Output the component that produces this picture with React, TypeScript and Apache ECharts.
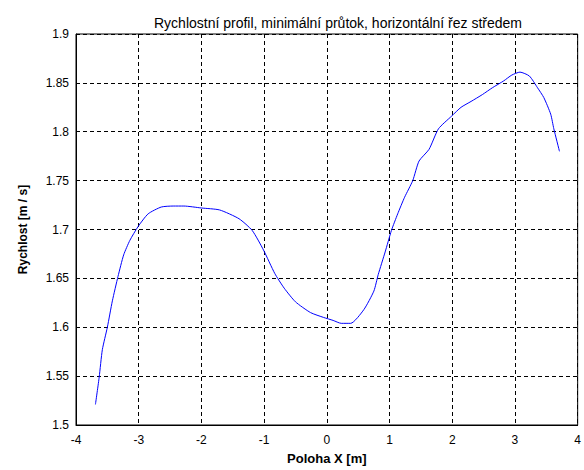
import React, { useEffect, useRef } from "react";
import * as echarts from "echarts";

// Velocity profile samples: position X [m] and speed [m/s]
const positionX = [
  -3.69, -3.63, -3.58, -3.5, -3.42, -3.33, -3.24, -3.14, -3.01, -2.85, -2.64,
  -2.45, -2.28, -2.0, -1.71, -1.4, -1.19, -1.01, -0.83, -0.68, -0.5, -0.26,
  -0.05, 0.1, 0.23, 0.38, 0.59, 0.75, 0.82, 0.93, 1.03, 1.13, 1.24, 1.37, 1.47,
  1.63, 1.78, 1.99, 2.14, 2.3, 2.48, 2.64, 2.82, 2.95, 3.08, 3.23, 3.36, 3.46,
  3.57, 3.62, 3.71,
];
const velocity = [
  1.521, 1.549, 1.577, 1.6, 1.627, 1.652, 1.674, 1.689, 1.703, 1.716, 1.723,
  1.724, 1.724, 1.722, 1.72, 1.711, 1.699, 1.679, 1.655, 1.64, 1.626, 1.615,
  1.61, 1.607, 1.604, 1.604, 1.618, 1.637, 1.654, 1.677, 1.699, 1.716, 1.733,
  1.75, 1.77, 1.782, 1.803, 1.816, 1.825, 1.831, 1.838, 1.845, 1.852, 1.858,
  1.861, 1.857, 1.845, 1.835, 1.818, 1.803, 1.78,
];

const titleText =
  "Rychlostní profil, minimální průtok, horizontální řez středem";
const xName = "Poloha X [m]";
const yName = "Rychlost [m / s]";

const FONT = "'Liberation Sans', Arial, sans-serif";

export default function App() {
  const ref = useRef<HTMLDivElement>(null);

  useEffect(() => {
    if (!ref.current) return;
    const chart = echarts.init(ref.current, undefined, { renderer: "svg" });
    const gridLine = { show: true, lineStyle: { color: "#000", type: [4, 3] as any, width: 1 } };
    chart.setOption({
      animation: false,
      backgroundColor: "#fff",
      title: {
        text: titleText,
        left: 333,
        top: 11,
        textAlign: "center",
        textStyle: { fontFamily: FONT, fontSize: 14, fontWeight: "normal", color: "#000" },
      },
      grid: {
        left: 76,
        top: 34,
        right: -7,
        bottom: 42,
        show: true,
        borderColor: "#000",
        borderWidth: 1,
      },
      xAxis: {
        type: "value",
        min: -4,
        max: 4,
        interval: 1,
        name: xName,
        nameLocation: "middle",
        nameGap: 27,
        nameTextStyle: { fontFamily: FONT, fontSize: 13, fontWeight: "bold", color: "#000" },
        axisLine: { show: true, onZero: false, lineStyle: { color: "#000", width: 1 } },
        axisTick: { show: false },
        axisLabel: { fontFamily: FONT, fontSize: 12, color: "#000", margin: 9 },
        splitLine: gridLine,
      },
      yAxis: {
        type: "value",
        min: 1.5,
        max: 1.9,
        interval: 0.05,
        name: yName,
        nameLocation: "middle",
        nameGap: 47,
        nameTextStyle: { fontFamily: FONT, fontSize: 12, fontWeight: "bold", color: "#000" },
        axisLine: { show: true, onZero: false, lineStyle: { color: "#000", width: 1 } },
        axisTick: { show: false },
        axisLabel: {
          fontFamily: FONT,
          fontSize: 12,
          color: "#000",
          margin: 7,
          formatter: (v: number) => String(parseFloat(v.toFixed(2))),
        },
        splitLine: gridLine,
      },
      series: [
        {
          type: "line",
          data: positionX.map((x, i) => [x, velocity[i]]),
          showSymbol: false,
          smooth: 0.2,
          lineStyle: { color: "#0000ff", width: 1 },
        },
      ],
    });
    return () => chart.dispose();
  }, []);

  return (
    <div
      ref={ref}
      style={{ position: "fixed", left: 0, top: 0, width: 584, height: 470 }}
    />
  );
}
